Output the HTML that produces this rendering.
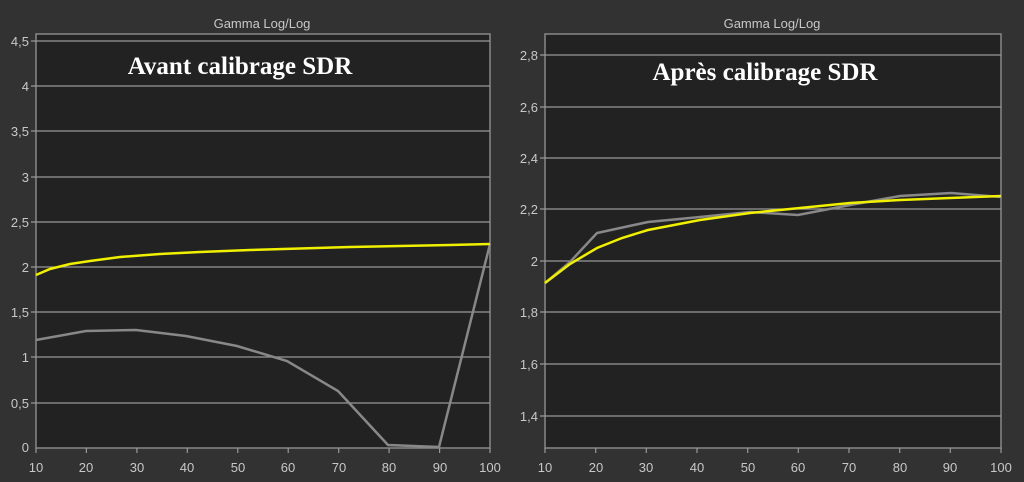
<!DOCTYPE html><html><head><style>body{margin:0;background:#333;}svg{display:block}</style></head><body>
<svg width="1024" height="482" xmlns="http://www.w3.org/2000/svg" font-family="Liberation Sans, sans-serif">
<rect width="1024" height="482" fill="#323232"/>
<text x="262" y="28" fill="#c8c8c8" font-size="13" text-anchor="middle">Gamma Log/Log</text>
<text x="772" y="28" fill="#c8c8c8" font-size="13" text-anchor="middle">Gamma Log/Log</text>
<rect x="36" y="34" width="454" height="414" fill="#222" stroke="#888" stroke-width="1.5"/>
<rect x="545" y="34" width="456" height="414" fill="#222" stroke="#888" stroke-width="1.5"/>
<g stroke="#999" stroke-width="1.2">
<line x1="31" x2="490" y1="41" y2="41"/><line x1="31" x2="490" y1="86" y2="86"/><line x1="31" x2="490" y1="131" y2="131"/><line x1="31" x2="490" y1="177" y2="177"/><line x1="31" x2="490" y1="222" y2="222"/><line x1="31" x2="490" y1="267" y2="267"/><line x1="31" x2="490" y1="312" y2="312"/><line x1="31" x2="490" y1="357" y2="357"/><line x1="31" x2="490" y1="403" y2="403"/>
<line x1="540" x2="1001" y1="55" y2="55"/><line x1="540" x2="1001" y1="107" y2="107"/><line x1="540" x2="1001" y1="158" y2="158"/><line x1="540" x2="1001" y1="209" y2="209"/><line x1="540" x2="1001" y1="261" y2="261"/><line x1="540" x2="1001" y1="312" y2="312"/><line x1="540" x2="1001" y1="364" y2="364"/><line x1="540" x2="1001" y1="416" y2="416"/>
</g>
<g stroke="#999" stroke-width="1.2">
<path d="M36 448v5M86.4 448v5M136.9 448v5M187.3 448v5M237.8 448v5M288.2 448v5M338.7 448v5M389.1 448v5M439.6 448v5M490 448v5"/>
<path d="M545 448v5M595.7 448v5M646.3 448v5M697 448v5M747.7 448v5M798.3 448v5M849 448v5M899.7 448v5M950.3 448v5M1001 448v5"/>
</g>
<g fill="#c8c8c8" font-size="13" text-anchor="end">
<text x="29" y="46">4,5</text><text x="29" y="91">4</text><text x="29" y="136">3,5</text><text x="29" y="182">3</text><text x="29" y="227">2,5</text><text x="29" y="272">2</text><text x="29" y="317">1,5</text><text x="29" y="362">1</text><text x="29" y="408">0,5</text><text x="29" y="452">0</text>
<text x="538" y="60">2,8</text><text x="538" y="112">2,6</text><text x="538" y="163">2,4</text><text x="538" y="214">2,2</text><text x="538" y="266">2</text><text x="538" y="317">1,8</text><text x="538" y="369">1,6</text><text x="538" y="421">1,4</text>
</g>
<g fill="#c8c8c8" font-size="13" text-anchor="middle">
<text x="36" y="472">10</text><text x="86" y="472">20</text><text x="137" y="472">30</text><text x="187" y="472">40</text><text x="238" y="472">50</text><text x="288" y="472">60</text><text x="339" y="472">70</text><text x="389" y="472">80</text><text x="440" y="472">90</text><text x="490" y="472">100</text>
<text x="545" y="472">10</text><text x="596" y="472">20</text><text x="646" y="472">30</text><text x="697" y="472">40</text><text x="748" y="472">50</text><text x="798" y="472">60</text><text x="849" y="472">70</text><text x="900" y="472">80</text><text x="950" y="472">90</text><text x="1001" y="472">100</text>
</g>
<text x="240" y="74" fill="#fff" font-family="Liberation Serif, serif" font-weight="bold" font-size="25" text-anchor="middle">Avant calibrage SDR</text>
<text x="765" y="80" fill="#fff" font-family="Liberation Serif, serif" font-weight="bold" font-size="25" text-anchor="middle">Après calibrage SDR</text>
<polyline fill="none" stroke="#888" stroke-width="2.5" points="36,340 86,331 136,330 186,336 237,346 287,361 338,391 388,445 439,447 490,244"/>
<polyline fill="none" stroke="#f0f000" stroke-width="2.5" points="36,275 50,269 70,264 90,261 120,257 160,254 200,252 250,250 300,248.5 350,247 400,246 450,245 490,244"/>
<polyline fill="none" stroke="#888" stroke-width="2.5" points="545,283 570,262 597,233 648,222 700,217 750,212 798,215 850,205 900,196 951,193 1001,197"/>
<polyline fill="none" stroke="#f0f000" stroke-width="2.5" points="545,283 570,264 597,248 622,238 648,230 700,220 750,213 800,208 850,203 900,200 950,198 1001,196"/>
</svg></body></html>
